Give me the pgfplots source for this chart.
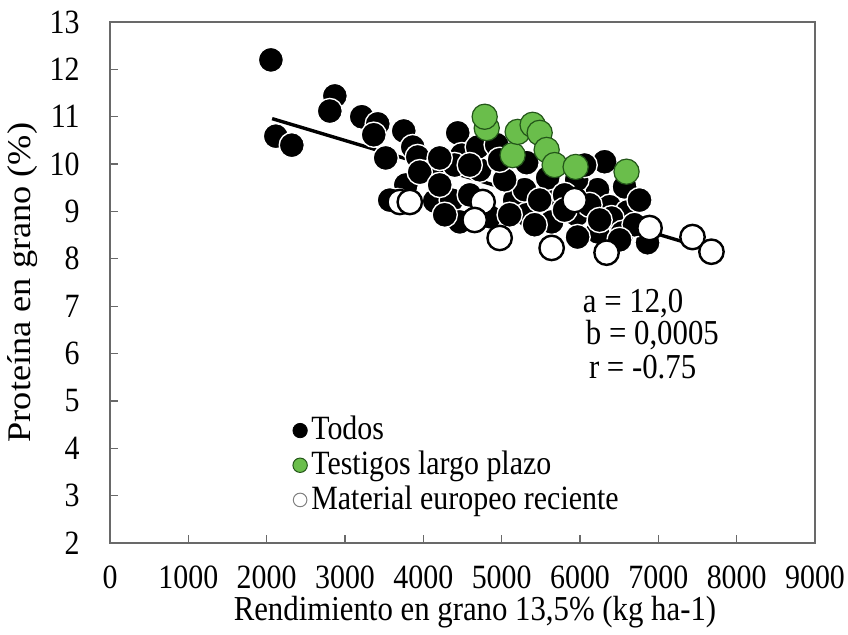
\documentclass[border=0pt]{standalone}
\usepackage{fontspec}
\setmainfont{Liberation Serif}[FakeStretch=0.88]
\newfontfamily\ylabfont{Liberation Serif}[FakeStretch=1.1]
\usepackage{pgfplots}
\pgfplotsset{compat=1.18}
\definecolor{gfill}{RGB}{106,190,75}
\definecolor{gedge}{RGB}{35,85,25}
\definecolor{axgray}{RGB}{105,105,105}
\begin{document}
\fontsize{17}{20}\selectfont
\begin{tikzpicture}
\begin{axis}[
  width=352.5pt, height=260.5pt, scale only axis,
  xmin=0, xmax=9000, ymin=2, ymax=13,
  xtick={0,1000,...,9000}, ytick={2,3,...,13},
  tick align=inside, tick pos=left,
  major tick length=4pt,
  axis line style={axgray, line width=0.8pt},
  tick style={axgray, line width=0.6pt},
  /pgf/number format/assume math mode=true,
  /pgf/number format/1000 sep={},
  tick label style={font=\fontsize{17}{20}\selectfont, inner sep=0pt},
  xticklabel style={anchor=center, yshift=-17pt},
  yticklabel style={xshift=-15pt},
  xlabel={Rendimiento en grano 13,5\% (kg ha-1)},
  ylabel={Proteína en grano (\%)},
  xlabel style={at={(axis description cs:0.5177,-0.1325)}, anchor=center, inner sep=0pt, font=\fontsize{17.5}{20}\selectfont},
  ylabel style={at={(axis description cs:-0.1234,0.5)}, anchor=center, inner sep=0pt, font=\ylabfont\fontsize{16.5}{20}\selectfont},
  legend style={draw=none, fill=none, at={(axis cs:2330,4.77)}, anchor=north west,
    font=\fontsize{17}{20}\selectfont, row sep=-1pt, inner sep=0pt},
  legend cell align=left,
]
% Todos
\addplot[only marks, mark=*, mark size=6.3pt, mark options={fill=black, draw=white, line width=0.7pt}, forget plot] coordinates {
(2054,12.20) (2870,11.44) (2806,11.12) (2117,10.59) (2321,10.40) (3214,11.00)
(3418,10.85) (3367,10.62) (3520,10.13) (3750,10.70) (3865,10.36) (3929,10.15)
(4107,9.84) (3776,9.56) (3673,9.22) (4145,9.22) (4362,9.24) (4464,8.78)
(4439,10.66) (4490,10.19) (4400,9.98) (4719,9.88) (4694,10.36) (4847,8.89)
(5166,9.24) (5293,9.46) (5319,8.93) (5638,8.78) (5650,9.39) (4936,10.41)
(5319,10.03) (5587,9.71) (6314,10.05) (6569,9.52) (6224,9.46) (5957,9.67)
(6378,9.10) (6607,8.99) (6403,8.86) (5957,8.93) (6543,8.55) (6224,8.57)
(5969,8.46) (6862,8.34) (3954,9.83) (4209,9.56) (4273,8.93) (4592,9.35)
(5038,9.67) (5102,8.93) (5485,9.24) (5803,9.35) (6122,9.14) (6250,8.82)
(6696,8.72) (6505,8.40) (3571,9.24) (4592,9.98) (5803,9.03) (5421,8.72)
(4974,10.09) (6059,9.98) (6760,9.24) (4209,10.13)
};
% Testigos largo plazo
\addplot[only marks, mark=*, mark size=6.3pt, mark options={fill=gfill, draw=gedge, line width=0.6pt}, forget plot] coordinates {
(4809,10.76) (4783,11.00) (5140,10.19) (5204,10.68) (5395,10.83) (5485,10.66)
(5574,10.30) (5676,9.98) (5944,9.94) (6594,9.84)
};
% Material europeo reciente
\addplot[only marks, mark=*, mark size=6.1pt, mark options={fill=white, draw=black, line width=1.2pt}, forget plot] coordinates {
(3699,9.20) (3827,9.20) (4757,9.20) (4655,8.82) (4974,8.44) (5638,8.23)
(5931,9.24) (6339,8.13) (6888,8.65) (7436,8.46) (7678,8.15)
};
% regression line
\addplot[black, line width=1.7pt, forget plot] coordinates {(2070,10.96) (7680,8.18)};
\addlegendimage{only marks, mark=*, mark size=3.6pt, mark options={fill=black, draw=black, line width=0.4pt}}
\addlegendentry{Todos}
\addlegendimage{only marks, mark=*, mark size=3.6pt, mark options={fill=gfill, draw=gedge, line width=0.5pt}}
\addlegendentry{Testigos largo plazo}
\addlegendimage{only marks, mark=*, mark size=3.4pt, mark options={fill=white, draw=gray, line width=0.5pt}}
\addlegendentry{Material europeo reciente}
\node[anchor=west, inner sep=0pt] at (axis cs:6033,7.06) {\fontsize{17.5}{20}\selectfont a = 12,0};
\node[anchor=west, inner sep=0pt] at (axis cs:6071,6.39) {\fontsize{17.5}{20}\selectfont b = 0,0005};
\node[anchor=west, inner sep=0pt] at (axis cs:6110,5.72) {\fontsize{17.5}{20}\selectfont r = -0.75};
\end{axis}
\path ([shift={(-55pt,-45.5pt)}]current axis.south west) rectangle ([shift={(16.5pt,11pt)}]current axis.north east);
\end{tikzpicture}
\end{document}
